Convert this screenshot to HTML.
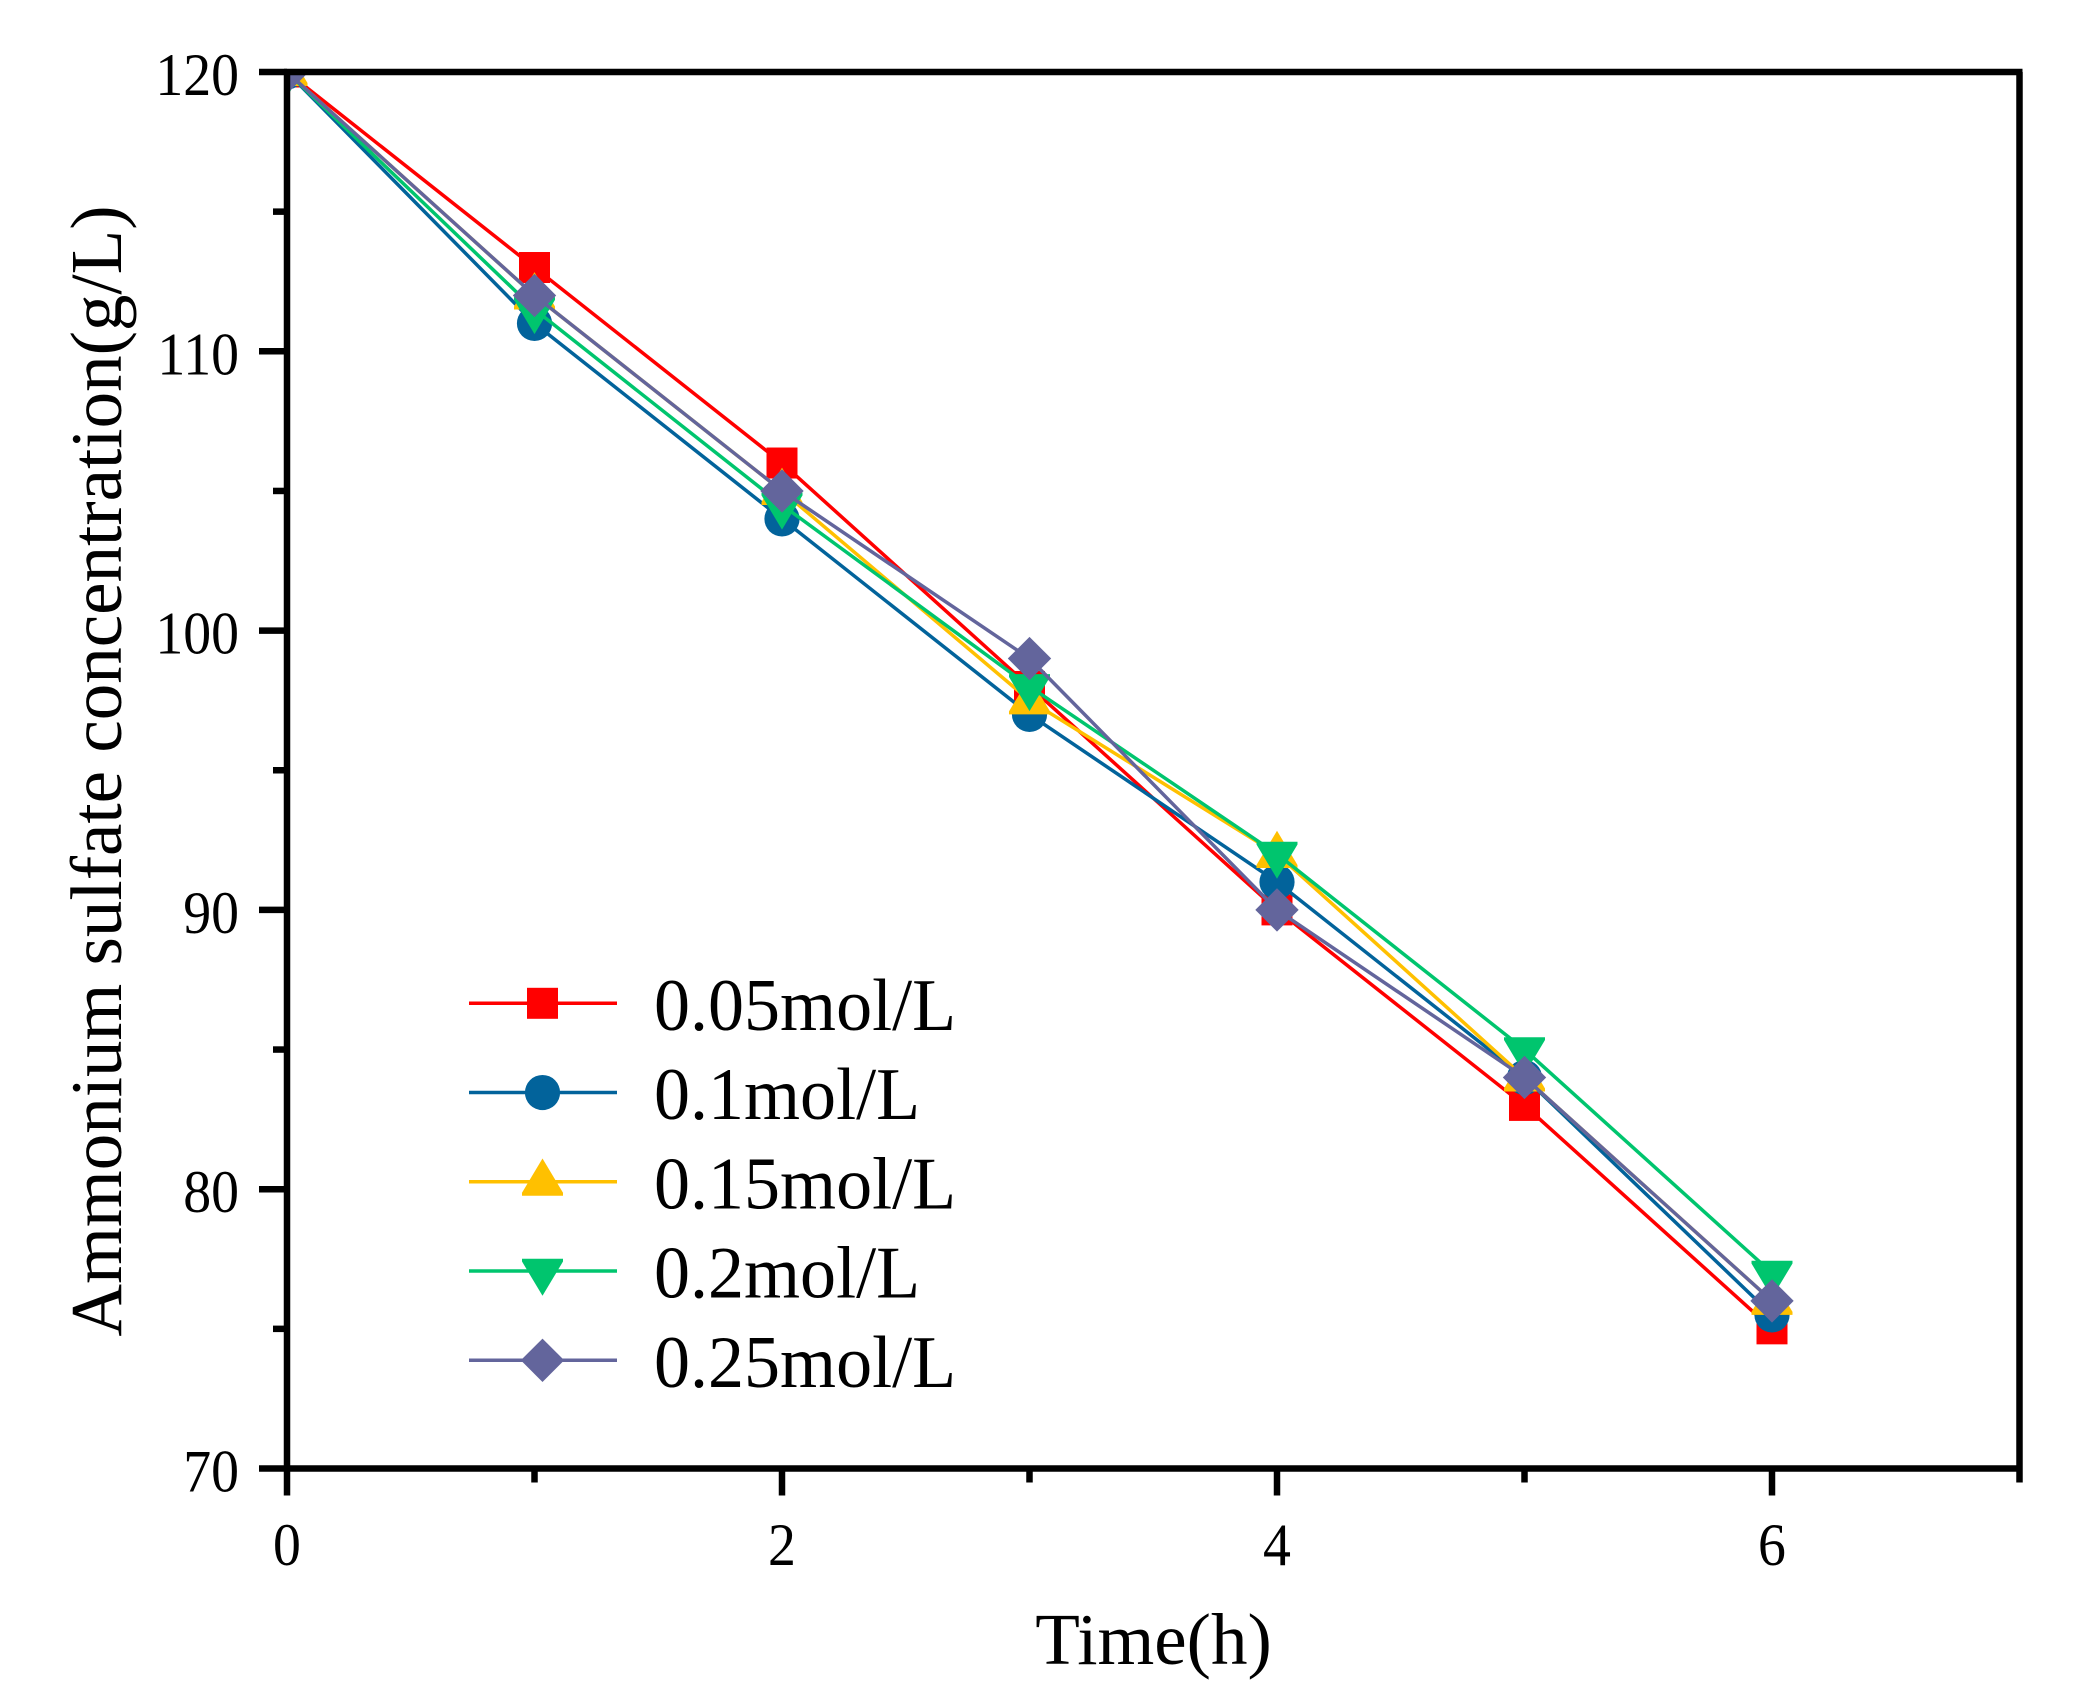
<!DOCTYPE html>
<html lang="en">
<head>
<meta charset="utf-8">
<title>Ammonium sulfate concentration over time</title>
<style>
html,body{margin:0;padding:0;background:#fff;}
svg{display:block;}
text{font-family:"Liberation Serif","Times New Roman",serif;fill:#000;}
</style>
</head>
<body>
<svg id="chart" xmlns="http://www.w3.org/2000/svg" width="2086" height="1702" viewBox="0 0 2086 1702">
  <defs>
    <clipPath id="plot-clip"><rect x="287" y="72" width="1733" height="1397"></rect></clipPath>
  </defs>
  <rect x="0" y="0" width="2086" height="1702" fill="#ffffff"></rect>
  <g id="series-layer" clip-path="url(#plot-clip)"></g>
  <g id="axes-layer"></g>
  <g id="legend-layer"></g>
  <text x="1153.5" y="1664" font-size="73" text-anchor="middle">Time(h)</text>
  <text transform="translate(121,771) rotate(-90)" font-size="73" text-anchor="middle">Ammonium sulfate concentration(g/L)</text>
</svg>
<script>
const times = [0, 1, 2, 3, 4, 5, 6];
const red005 = [120, 113, 106, 98, 90, 83, 75];
const blue01 = [120, 111, 104, 97, 91, 84, 75.5];
const yellow015 = [120, 112, 105, 97.5, 92, 84, 76];
const green02 = [120, 111.5, 104.5, 98, 92, 85, 77];
const purple025 = [120, 112, 105, 99, 90, 84, 76];
const seriesNames = ['0.05mol/L', '0.1mol/L', '0.15mol/L', '0.2mol/L', '0.25mol/L'];
const xMajorTicks = [0, 2, 4, 6];
const xMinorTicks = [1, 3, 5, 7];
const yMajorTicks = [70, 80, 90, 100, 110, 120];
const yMinorTicks = [75, 85, 95, 105, 115];

const SVG_NS = 'http://www.w3.org/2000/svg';
const X0 = 287, X_UNIT = 247.5;
const Y_TOP = 72, Y_UNIT = 27.93;
const AXIS_W = 6.5;
const LINE_W = 3.5;
function xScale(v) { return X0 + v * X_UNIT; }
function yScale(v) { return Y_TOP + (120 - v) * Y_UNIT; }
const plotRight = xScale(7);
const plotBottom = yScale(70);

const palette = ['#ff0000', '#02639b', '#ffc000', '#00c56e', '#63659c'];
const markerKinds = ['square', 'circle', 'up', 'down', 'diamond'];
const seriesValues = [red005, blue01, yellow015, green02, purple025];

function make(tag, attrs, parent) {
  const el = document.createElementNS(SVG_NS, tag);
  for (const k in attrs) el.setAttribute(k, attrs[k]);
  parent.appendChild(el);
  return el;
}

function drawMarker(kind, cx, cy, color, parent) {
  let el;
  if (kind === 'square') {
    el = make('rect', {x: cx - 15.5, y: cy - 15.5, width: 31, height: 31, fill: color}, parent);
  } else if (kind === 'circle') {
    el = make('circle', {cx: cx, cy: cy, r: 17.6, fill: color}, parent);
  } else if (kind === 'up') {
    el = make('polygon', {points: (cx) + ',' + (cy - 23.3) + ' ' + (cx + 20.5) + ',' + (cy + 11) + ' ' + (cx + 20.5) + ',' + (cy + 14) + ' ' + (cx - 20.5) + ',' + (cy + 14) + ' ' + (cx - 20.5) + ',' + (cy + 11), fill: color}, parent);
  } else if (kind === 'down') {
    el = make('polygon', {points: (cx) + ',' + (cy + 24.7) + ' ' + (cx + 20.5) + ',' + (cy - 9.5) + ' ' + (cx + 20.5) + ',' + (cy - 12.3) + ' ' + (cx - 20.5) + ',' + (cy - 12.3) + ' ' + (cx - 20.5) + ',' + (cy - 9.5), fill: color}, parent);
  } else {
    el = make('polygon', {points: cx + ',' + (cy - 21.7) + ' ' + (cx + 21.7) + ',' + cy + ' ' + cx + ',' + (cy + 21.7) + ' ' + (cx - 21.7) + ',' + cy, fill: color}, parent);
  }
  return el;
}

/* series */
const seriesLayer = document.getElementById('series-layer');
seriesValues.forEach(function (values, s) {
  const group = make('g', {}, seriesLayer);
  
  
  const pts = values.map(function (v, i) { return xScale(times[i]) + ',' + yScale(v); }).join(' ');
  const line = make('polyline', {points: pts, fill: 'none', stroke: palette[s], 'stroke-width': LINE_W, 'stroke-linejoin': 'round'}, group);
  
  
  values.forEach(function (v, i) {
    const m = drawMarker(markerKinds[s], xScale(times[i]), yScale(v), palette[s], group);
    
    
  });
});

/* axes */
const axes = document.getElementById('axes-layer');
function axisLine(x1, y1, x2, y2, name) {
  const l = make('line', {x1: x1, y1: y1, x2: x2, y2: y2, stroke: '#000', 'stroke-width': AXIS_W}, axes);
  
  
}
axisLine(xScale(0), Y_TOP - 3, xScale(0), plotBottom, 'y-axis-line');
axisLine(xScale(0), plotBottom, plotRight + 3, plotBottom, 'x-axis-line');
axisLine(xScale(0) - 3, Y_TOP, plotRight + 3, Y_TOP, 'top-border');
axisLine(plotRight, Y_TOP, plotRight, plotBottom, 'right-border');

const TICK_SX = 0.93;
xMajorTicks.forEach(function (v) {
  axisLine(xScale(v), plotBottom, xScale(v), plotBottom + 27, 'x-major-tick');
  const t = make('text', {transform: 'translate(' + xScale(v) + ',1565) scale(' + TICK_SX + ',1)', 'font-size': 60, 'text-anchor': 'middle'}, axes);
  
  
  t.textContent = String(v);
});
xMinorTicks.forEach(function (v) {
  axisLine(xScale(v), plotBottom, xScale(v), plotBottom + 14, 'x-minor-tick');
});
yMajorTicks.forEach(function (v) {
  axisLine(xScale(0) - 28, yScale(v), xScale(0), yScale(v), 'y-major-tick');
  const t = make('text', {transform: 'translate(239,' + (yScale(v) + 23) + ') scale(' + TICK_SX + ',1)', 'font-size': 60, 'text-anchor': 'end'}, axes);
  
  
  t.textContent = String(v);
});
yMinorTicks.forEach(function (v) {
  axisLine(xScale(0) - 14, yScale(v), xScale(0), yScale(v), 'y-minor-tick');
});

/* legend */
const legendLayer = document.getElementById('legend-layer');
const legendStartY = 1003.3, legendStep = 89.25;
seriesNames.forEach(function (name, s) {
  const cy = legendStartY + s * legendStep;
  const entry = make('g', {}, legendLayer);
  
  
  const sample = make('line', {x1: 469, y1: cy, x2: 617, y2: cy, stroke: palette[s], 'stroke-width': LINE_W}, entry);
  
  
  const mark = drawMarker(markerKinds[s], 542.5, cy, palette[s], entry);
  
  
  const label = make('text', {transform: 'translate(654,' + (cy + 26.5) + ') scale(0.967,1)', 'font-size': 74.5}, entry);
  
  
  label.textContent = name;
});
</script>
</body>
</html>
